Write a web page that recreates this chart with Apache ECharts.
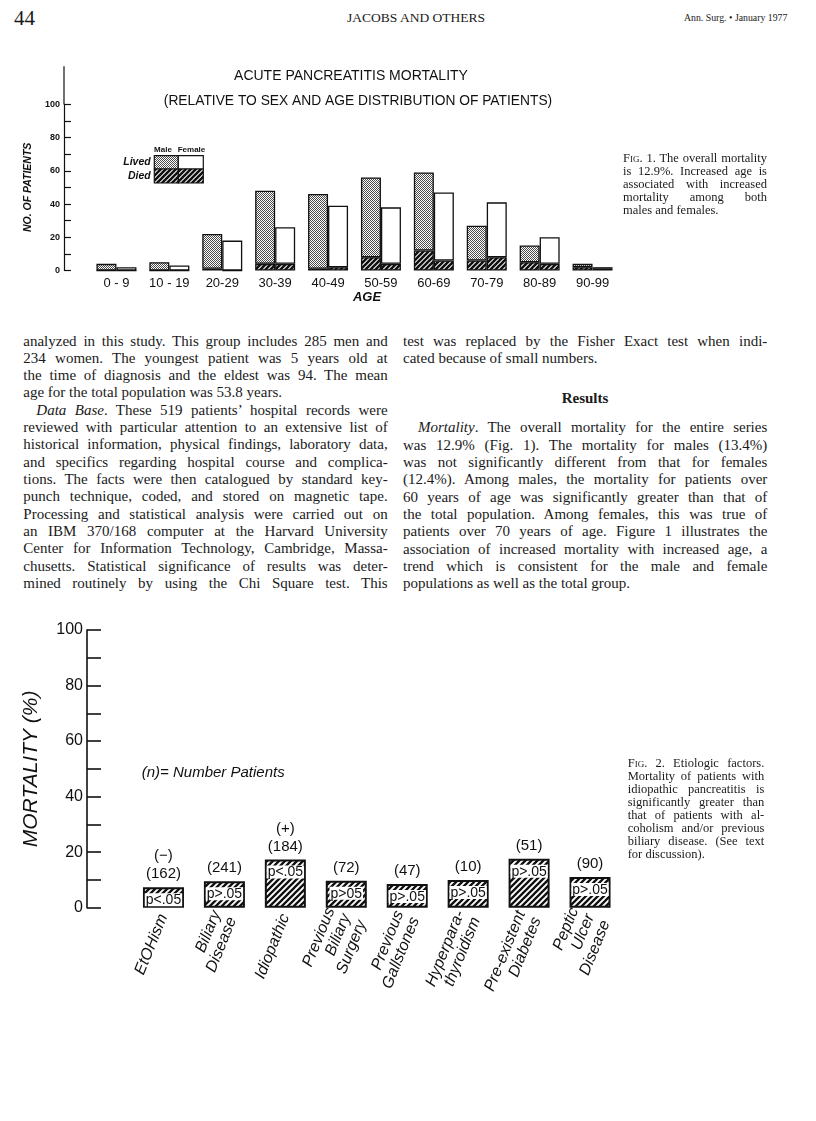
<!DOCTYPE html>
<html>
<head>
<meta charset="utf-8">
<script src="https://cdn.jsdelivr.net/npm/echarts@6/dist/echarts.min.js"></script>
<style>
html,body{margin:0;padding:0;background:#fff;}
#page{position:relative;width:816px;height:1121px;overflow:hidden;font-family:"Liberation Serif","Times New Roman",serif;color:#1a1a1a;}
.ln{position:absolute;white-space:nowrap;font-size:15px;line-height:17px;height:17px;}
.cap{position:absolute;white-space:nowrap;font-size:12.5px;line-height:13px;height:13px;}
.sc{font-variant:small-caps;}
#c1{position:absolute;left:0;top:50px;width:625px;height:262px;}
#c2{position:absolute;left:0;top:600px;width:630px;height:445px;}
</style>
</head>
<body>
<div id="page">
  <div id="c1"></div>
  <div id="c2"></div>
</div>
<script>
// ---------------- DATA ----------------
// Fig. 1
const ageGroups = ['0 - 9', '10 - 19', '20-29', '30-39', '40-49', '50-59', '60-69', '70-79', '80-89', '90-99'];
const maleLived = [4, 5, 21, 44, 45, 48, 47, 21, 10, 2];
const maleDied = [0, 0, 1, 4, 1, 8, 12, 6, 5, 2];
const femaleLived = [2, 3, 18, 22, 37, 34, 41, 33, 16, 1];
const femaleDied = [0, 0, 0, 4, 2, 4, 6, 8, 4, 1];
const fig1Ticks = [0, 20, 40, 60, 80, 100];

// Fig. 2
const factors = ['EtOHism', 'Biliary\nDisease', 'Idiopathic', 'Previous\nBiliary\nSurgery', 'Previous\nGallstones', 'Hyperpara-\nthyroidism', 'Pre-existent\nDiabetes', 'Peptic\nUlcer\nDisease'];
const mortality = [7.4, 9.5, 17.4, 9.7, 8.5, 10.0, 17.6, 11.1];
const patients = [162, 241, 184, 72, 47, 10, 51, 90];
const signs = ['(−)', '', '(+)', '', '', '', '', ''];
const pValues = ['p<.05', 'p>.05', 'p<.05', 'p>05', 'p>.05', 'p>.05', 'p>.05', 'p>.05'];
const fig2Ticks = [0, 20, 40, 60, 80, 100];

// ---------------- PAGE TEXT ----------------
const page = document.getElementById('page');
function placeLine(html, left, cy, width, justify, cls, lh) {
  const d = document.createElement('div');
  d.className = cls || 'ln';
  d.style.left = left + 'px';
  d.style.top = (cy - (lh || 17) / 2) + 'px';
  d.innerHTML = html;
  page.appendChild(d);
  if (justify) {
    const w = d.getBoundingClientRect().width;
    const spaces = (d.textContent.match(/ /g) || []).length;
    if (spaces) d.style.wordSpacing = ((width - w) / spaces) + 'px';
  }
  return d;
}
function freeText(html, left, cy, size, extra) {
  const d = document.createElement('div');
  d.style.position = 'absolute';
  d.style.whiteSpace = 'nowrap';
  d.style.fontSize = size + 'px';
  d.style.lineHeight = size + 'px';
  d.style.left = left + 'px';
  d.style.top = (cy - size / 2) + 'px';
  if (extra) Object.assign(d.style, extra);
  d.innerHTML = html;
  page.appendChild(d);
  return d;
}
freeText('44', 14, 18, 21);
freeText('JACOBS AND OTHERS', 0, 18, 13.5, {width: '816px', textAlign: 'center', left: '8px'});
freeText('Ann. Surg. • January 1977', 684, 18, 9.8);

const leftCol = [
  ['analyzed in this study. This group includes 285 men and', 0, true],
  ['234 women. The youngest patient was 5 years old at', 0, true],
  ['the time of diagnosis and the eldest was 94. The mean', 0, true],
  ['age for the total population was 53.8 years.', 0, false],
  ['<i>Data Base</i>. These 519 patients\u2019 hospital records were', 13, true],
  ['reviewed with particular attention to an extensive list of', 0, true],
  ['historical information, physical findings, laboratory data,', 0, true],
  ['and specifics regarding hospital course and complica-', 0, true],
  ['tions. The facts were then catalogued by standard key-', 0, true],
  ['punch technique, coded, and stored on magnetic tape.', 0, true],
  ['Processing and statistical analysis were carried out on', 0, true],
  ['an IBM 370/168 computer at the Harvard University', 0, true],
  ['Center for Information Technology, Cambridge, Massa-', 0, true],
  ['chusetts. Statistical significance of results was deter-', 0, true],
  ['mined routinely by using the Chi Square test. This', 0, true]
];
leftCol.forEach((l, i) => placeLine(l[0], 23.3 + l[1], 341 + 17.33 * i, 364.4 - l[1], l[2]));

placeLine('test was replaced by the Fisher Exact test when indi-', 403, 341, 364.3, true);
placeLine('cated because of small numbers.', 403, 358.3, 364.3, false);
freeText('<b>Results</b>', 0, 398.3, 15, {width: '364px', left: '403px', textAlign: 'center'});
const rightCol = [
  ['<i>Mortality</i>. The overall mortality for the entire series', 15, true],
  ['was 12.9% (Fig. 1). The mortality for males (13.4%)', 0, true],
  ['was not significantly different from that for females', 0, true],
  ['(12.4%). Among males, the mortality for patients over', 0, true],
  ['60 years of age was significantly greater than that of', 0, true],
  ['the total population. Among females, this was true of', 0, true],
  ['patients over 70 years of age. Figure 1 illustrates the', 0, true],
  ['association of increased mortality with increased age, a', 0, true],
  ['trend which is consistent for the male and female', 0, true],
  ['populations as well as the total group.', 0, false]
];
rightCol.forEach((l, i) => placeLine(l[0], 403 + l[1], 427.7 + 17.33 * i, 364.3 - l[1], l[2]));

const cap1 = [
  ['F<span class="sc">ig</span>. 1. The overall mortality', true],
  ['is 12.9%. Increased age is', true],
  ['associated with increased', true],
  ['mortality among both', true],
  ['males and females.', false]
];
cap1.forEach((l, i) => placeLine(l[0], 623, 158 + 13 * i, 144, l[1], 'cap', 13));
const cap2 = [
  ['F<span class="sc">ig</span>. 2. Etiologic factors.', true],
  ['Mortality of patients with', true],
  ['idiopathic pancreatitis is', true],
  ['significantly greater than', true],
  ['that of patients with al-', true],
  ['coholism and/or previous', true],
  ['biliary disease. (See text', true],
  ['for discussion).', false]
];
cap2.forEach((l, i) => placeLine(l[0], 627.7, 763.5 + 13 * i, 136.6, l[1], 'cap', 13));

// ---------------- PATTERNS ----------------
function hatchCanvas(s, lw) {
  const c = document.createElement('canvas');
  c.width = s; c.height = s;
  const g = c.getContext('2d');
  g.fillStyle = '#fff'; g.fillRect(0, 0, s, s);
  g.strokeStyle = '#111'; g.lineWidth = lw;
  g.beginPath();
  g.moveTo(-1, s + 1); g.lineTo(s + 1, -1);
  g.moveTo(-1, 1); g.lineTo(1, -1);
  g.moveTo(s - 1, s + 1); g.lineTo(s + 1, s - 1);
  g.stroke();
  return c;
}
function stippleCanvas() {
  const c = document.createElement('canvas');
  c.width = 4; c.height = 4;
  const g = c.getContext('2d');
  g.fillStyle = '#fff'; g.fillRect(0, 0, 4, 4);
  g.fillStyle = '#4a4a4a';
  for (let y = 0; y < 4; y++) for (let x = 0; x < 4; x++) if ((x + y) % 2 === 0) g.fillRect(x, y, 1, 1);
  return c;
}
const hatch1 = {image: hatchCanvas(5, 2.6), repeat: 'repeat'};
const hatch2 = {image: hatchCanvas(6, 2.3), repeat: 'repeat'};
const stipple = {image: stippleCanvas(), repeat: 'repeat'};

const INK = '#111';
const SANS = "'Liberation Sans', Arial, sans-serif";

// ---------------- FIG 1 ----------------
const c1 = echarts.init(document.getElementById('c1'), null, {renderer: 'canvas'});
const bar1 = (name, stack, data, color) => ({
  name, type: 'bar', stack, data, barWidth: 20, barGap: '0%',
  itemStyle: {color, borderColor: INK, borderWidth: 1.3},
  emphasis: {disabled: true}, animation: false
});
c1.setOption({
  animation: false,
  textStyle: {fontFamily: SANS, color: INK},
  grid: {left: 90, top: 54.3, width: 529, height: 166.2, containLabel: false},
  xAxis: {
    type: 'category', data: ageGroups,
    axisLine: {show: false}, axisTick: {show: false},
    axisLabel: {interval: 0, fontSize: 13, color: INK, margin: 6, fontFamily: SANS}
  },
  yAxis: {
    type: 'value', min: 0, max: 100, interval: 10, offset: 26,
    axisLine: {show: true, lineStyle: {color: INK, width: 1.2}, symbol: ['none', 'rect'], symbolSize: [1.2, 38], symbolOffset: [0, 19]},
    axisTick: {show: true, inside: true, length: 7, lineStyle: {color: INK, width: 1.2}},
    axisLabel: {formatter: v => fig1Ticks.includes(v) ? String(v) : '', fontSize: 9, fontWeight: 'bold', color: INK, margin: 4},
    splitLine: {show: false},
    name: 'NO. OF PATIENTS', nameLocation: 'middle', nameRotate: 90, nameGap: 28,
    nameTextStyle: {fontSize: 10.5, fontStyle: 'italic', fontWeight: 'bold', color: INK}
  },
  series: [
    bar1('Male died', 'male', maleDied, hatch1),
    bar1('Male lived', 'male', maleLived, stipple),
    bar1('Female died', 'female', femaleDied, hatch1),
    bar1('Female lived', 'female', femaleLived, '#fff')
  ],
  graphic: [
    {type: 'text', x: 351, y: 26, style: {text: 'ACUTE PANCREATITIS MORTALITY', font: '14px ' + SANS, fill: INK, align: 'center', verticalAlign: 'middle'}},
    {type: 'text', x: 358, y: 51, style: {text: '(RELATIVE TO SEX AND AGE DISTRIBUTION OF PATIENTS)', font: '13.8px ' + SANS, fill: INK, align: 'center', verticalAlign: 'middle'}},
    {type: 'text', x: 367, y: 247, style: {text: 'AGE', font: 'italic bold 13px ' + SANS, fill: INK, align: 'center', verticalAlign: 'middle'}},
    // legend
    {type: 'text', x: 163, y: 100, style: {text: 'Male', font: 'bold 8px ' + SANS, fill: INK, align: 'center', verticalAlign: 'middle'}},
    {type: 'text', x: 191.5, y: 100, style: {text: 'Female', font: 'bold 8px ' + SANS, fill: INK, align: 'center', verticalAlign: 'middle'}},
    {type: 'text', x: 150.7, y: 112.5, style: {text: 'Lived', font: 'italic bold 10.5px ' + SANS, fill: INK, align: 'right', verticalAlign: 'middle'}},
    {type: 'text', x: 150.7, y: 126, style: {text: 'Died', font: 'italic bold 10.5px ' + SANS, fill: INK, align: 'right', verticalAlign: 'middle'}},
    {type: 'rect', shape: {x: 154.3, y: 105.7, width: 24, height: 13.3}, style: {fill: stipple, stroke: INK, lineWidth: 1.2}},
    {type: 'rect', shape: {x: 178.3, y: 105.7, width: 25, height: 13.3}, style: {fill: '#fff', stroke: INK, lineWidth: 1.2}},
    {type: 'rect', shape: {x: 154.3, y: 119, width: 24, height: 14}, style: {fill: hatch1, stroke: INK, lineWidth: 1.2}},
    {type: 'rect', shape: {x: 178.3, y: 119, width: 25, height: 14}, style: {fill: hatch1, stroke: INK, lineWidth: 1.2}}
  ]
});

// ---------------- FIG 2 ----------------
const c2 = echarts.init(document.getElementById('c2'), null, {renderer: 'canvas'});
c2.setOption({
  animation: false,
  textStyle: {fontFamily: SANS, color: INK},
  grid: {left: 133, top: 30, width: 487.5, height: 277.7, containLabel: false},
  xAxis: {
    type: 'category', data: factors,
    axisLine: {show: false}, axisTick: {show: false},
    axisLabel: {interval: 0, rotate: 68, fontSize: 16, lineHeight: 17, fontStyle: 'italic', color: INK, margin: 7, fontFamily: SANS}
  },
  yAxis: {
    type: 'value', min: 0, max: 100, interval: 10, offset: 46,
    axisLine: {show: true, lineStyle: {color: INK, width: 1.6}},
    axisTick: {show: true, inside: true, length: 14, lineStyle: {color: INK, width: 1.6}},
    axisLabel: {formatter: v => fig2Ticks.includes(v) ? String(v) : '', fontSize: 16, color: INK, margin: 4},
    splitLine: {show: false},
    name: 'MORTALITY (%)', nameLocation: 'middle', nameRotate: 90, nameGap: 45,
    nameTextStyle: {fontSize: 21, fontStyle: 'italic', color: INK}
  },
  series: [
    {
      name: 'Mortality', type: 'bar', data: mortality, barWidth: 41, barGap: '-100%',
      itemStyle: {color: hatch2, borderColor: INK, borderWidth: 2},
      label: {
        show: true, position: 'insideTop', distance: 6,
        formatter: p => pValues[p.dataIndex],
        fontSize: 14, lineHeight: 12, color: INK, backgroundColor: '#fff', padding: [1, 1, 0, 1], fontFamily: SANS
      },
      emphasis: {disabled: true}
    },
    {
      name: 'Patients', type: 'bar', data: mortality, barWidth: 41, barGap: '-100%',
      itemStyle: {color: 'rgba(0,0,0,0)'},
      label: {
        show: true, position: 'top', distance: 4,
        formatter: p => (signs[p.dataIndex] ? signs[p.dataIndex] + '\n' : '') + '(' + patients[p.dataIndex] + ')',
        fontSize: 15, lineHeight: 18, color: INK, fontFamily: SANS
      },
      emphasis: {disabled: true}, silent: true
    }
  ],
  graphic: [
    {type: 'text', x: 141.7, y: 173, style: {text: '(n)= Number Patients', font: 'italic 15px ' + SANS, fill: INK, align: 'left', verticalAlign: 'middle'}}
  ]
});
</script>
</body>
</html>
